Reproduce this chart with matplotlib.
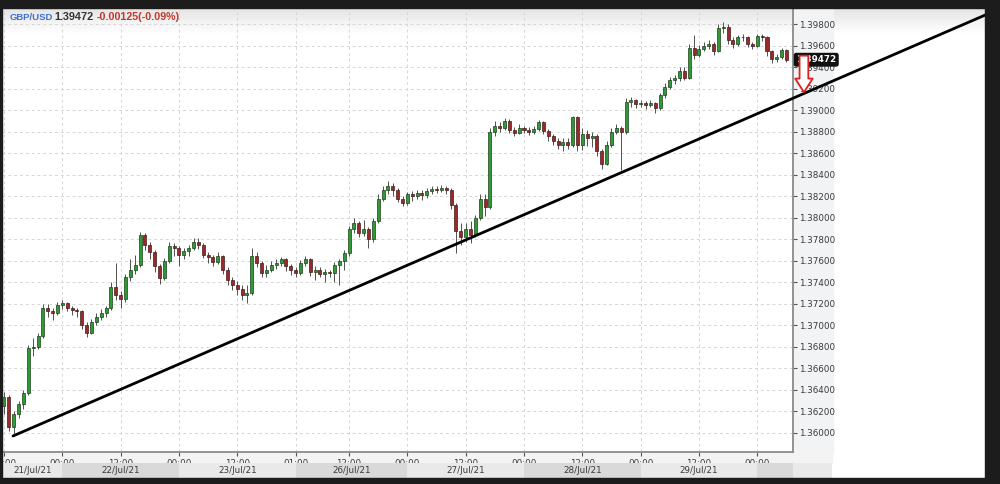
import matplotlib
matplotlib.use("Agg")
import matplotlib.pyplot as plt
from matplotlib.patches import Rectangle
from matplotlib.colors import LinearSegmentedColormap
import numpy as np

# hourly GBP/USD candles, 21/Jul/21 12:00 .. 30/Jul/21 06:00 (weekend gap removed)
first_open = 1.3625
closes = [1.3633, 1.3606, 1.3618, 1.3627, 1.3637, 1.3679, 1.3680, 1.3690, 1.3716, 1.3713,
          1.3712, 1.3719, 1.3721, 1.3716, 1.3714, 1.3713, 1.3700, 1.3693, 1.3703, 1.3708,
          1.3712, 1.3716, 1.3736, 1.3728, 1.3725, 1.3745, 1.3752, 1.3756, 1.3784, 1.3775,
          1.3768, 1.3755, 1.3744, 1.3760, 1.3774, 1.3772, 1.3766, 1.3769, 1.3772, 1.3778,
          1.3775, 1.3766, 1.3764, 1.3759, 1.3765, 1.3752, 1.3742, 1.3738, 1.3734, 1.3728,
          1.3730, 1.3765, 1.3758, 1.3749, 1.3752, 1.3756, 1.3758, 1.3762, 1.3755, 1.3752,
          1.3749, 1.3758, 1.3762, 1.3750, 1.3752, 1.3748, 1.3750, 1.3749, 1.3756, 1.3760,
          1.3767, 1.3790, 1.3795, 1.3786, 1.3790, 1.3780, 1.3797, 1.3818, 1.3826, 1.3830,
          1.3826, 1.3818, 1.3814, 1.3822, 1.3820, 1.3823, 1.3821, 1.3825, 1.3827, 1.3826,
          1.3828, 1.3826, 1.3812, 1.3788, 1.3782, 1.3790, 1.3784, 1.3800, 1.3818, 1.3810,
          1.3880, 1.3886, 1.3884, 1.3890, 1.3882, 1.3879, 1.3884, 1.3882, 1.3880, 1.3883,
          1.3889, 1.3881, 1.3876, 1.3872, 1.3868, 1.3871, 1.3868, 1.3894, 1.3868, 1.3878,
          1.3874, 1.3876, 1.3862, 1.3850, 1.3868, 1.3880, 1.3884, 1.3880, 1.3908, 1.3910,
          1.3906, 1.3907, 1.3905, 1.3907, 1.3902, 1.3914, 1.3922, 1.3928, 1.3930, 1.3937,
          1.3930, 1.3958, 1.3952, 1.3957, 1.3960, 1.3962, 1.3955, 1.3977, 1.3978, 1.3966,
          1.3962, 1.3968, 1.3968, 1.3962, 1.3960, 1.3969, 1.3968, 1.3955, 1.3948, 1.3950,
          1.3956, 1.3947]
highs = [1.3638, 1.3635, 1.3620, 1.3630, 1.3640, 1.3682, 1.3688, 1.3693, 1.3720, 1.3720,
         1.3716, 1.3722, 1.3724, 1.3722, 1.3718, 1.3716, 1.3714, 1.3703, 1.3706, 1.3712,
         1.3715, 1.3718, 1.3740, 1.3758, 1.3732, 1.3748, 1.3762, 1.3766, 1.3787, 1.3786,
         1.3778, 1.3770, 1.3757, 1.3763, 1.3778, 1.3777, 1.3774, 1.3772, 1.3775, 1.3781,
         1.3781, 1.3777, 1.3768, 1.3766, 1.3768, 1.3766, 1.3754, 1.3745, 1.3741, 1.3738,
         1.3738, 1.3772, 1.3768, 1.3760, 1.3756, 1.3760, 1.3762, 1.3764, 1.3763, 1.3757,
         1.3754, 1.3761, 1.3765, 1.3763, 1.3755, 1.3754, 1.3753, 1.3752, 1.3759, 1.3762,
         1.3770, 1.3793, 1.3800, 1.3797, 1.3798, 1.3792, 1.3800, 1.3822, 1.3830, 1.3834,
         1.3833, 1.3828, 1.3820, 1.3824, 1.3825, 1.3826, 1.3826, 1.3828, 1.3830, 1.3830,
         1.3831, 1.3830, 1.3828, 1.3814, 1.3795, 1.3795, 1.3797, 1.3803, 1.3822, 1.3822,
         1.3884, 1.3890, 1.3889, 1.3893, 1.3892, 1.3885, 1.3887, 1.3886, 1.3885, 1.3886,
         1.3891, 1.3890, 1.3883, 1.3878, 1.3874, 1.3874, 1.3874, 1.3895, 1.3895, 1.3884,
         1.3882, 1.3880, 1.3878, 1.3864, 1.3872, 1.3884, 1.3887, 1.3886, 1.3912, 1.3913,
         1.3911, 1.3910, 1.3909, 1.3910, 1.3908, 1.3916, 1.3926, 1.3931, 1.3933, 1.3940,
         1.3940, 1.3962, 1.3970, 1.3961, 1.3964, 1.3966, 1.3964, 1.3980, 1.3982, 1.3980,
         1.3968, 1.3970, 1.3971, 1.3969, 1.3964, 1.3971, 1.3971, 1.3969, 1.3956, 1.3953,
         1.3958, 1.3957]
lows = [1.3618, 1.3602, 1.3597, 1.3614, 1.3622, 1.3635, 1.3672, 1.3678, 1.3688, 1.3708,
        1.3705, 1.3710, 1.3715, 1.3713, 1.3710, 1.3708, 1.3697, 1.3689, 1.3692, 1.3700,
        1.3705, 1.3708, 1.3714, 1.3724, 1.3716, 1.3722, 1.3741, 1.3748, 1.3754, 1.3770,
        1.3762, 1.3750, 1.3739, 1.3742, 1.3758, 1.3765, 1.3755, 1.3762, 1.3765, 1.3770,
        1.3771, 1.3763, 1.3758, 1.3755, 1.3757, 1.3748, 1.3738, 1.3733, 1.3728, 1.3724,
        1.3721, 1.3728, 1.3754, 1.3745, 1.3745, 1.3750, 1.3753, 1.3755, 1.3751, 1.3747,
        1.3745, 1.3747, 1.3755, 1.3746, 1.3742, 1.3745, 1.3740, 1.3745, 1.3740, 1.3738,
        1.3752, 1.3765, 1.3786, 1.3782, 1.3783, 1.3772, 1.3778, 1.3795, 1.3816, 1.3822,
        1.3820, 1.3815, 1.3811, 1.3812, 1.3816, 1.3818, 1.3817, 1.3819, 1.3822, 1.3823,
        1.3824, 1.3822, 1.3808, 1.3767, 1.3775, 1.3778, 1.3777, 1.3782, 1.3798, 1.3802,
        1.3808, 1.3876, 1.3880, 1.3882, 1.3879, 1.3876, 1.3878, 1.3879, 1.3877, 1.3878,
        1.3881, 1.3878, 1.3872, 1.3868, 1.3864, 1.3862, 1.3864, 1.3866, 1.3862, 1.3863,
        1.3867, 1.3866, 1.3858, 1.3846, 1.3849, 1.3866, 1.3878, 1.3845, 1.3878, 1.3903,
        1.3902, 1.3903, 1.3901, 1.3903, 1.3898, 1.3900, 1.3912, 1.3920, 1.3925, 1.3927,
        1.3928, 1.3929, 1.3948, 1.3950, 1.3955, 1.3957, 1.3952, 1.3954, 1.3972, 1.3962,
        1.3958, 1.3960, 1.3965, 1.3959, 1.3957, 1.3959, 1.3965, 1.3951, 1.3944, 1.3945,
        1.3948, 1.3945]
opens = [first_open] + closes[:-1]

tick_pos = [0, 12, 24, 36, 48, 60, 71, 83, 95, 107, 119, 131, 143, 155]
tick_labels = ["12:00", "00:00", "12:00", "00:00", "12:00", "01:00", "12:00",
               "00:00", "12:00", "00:00", "12:00", "00:00", "12:00", "00:00"]
day_edges = [-0.41, 12, 36, 60, 83, 107, 131, 155, 162.35, 170.4]
day_labels = ["21/Jul/21", "22/Jul/21", "23/Jul/21", "26/Jul/21", "27/Jul/21",
              "28/Jul/21", "29/Jul/21", "", ""]

trend_x = [1.85, 201.9]
trend_y = [1.35972, 1.39888]

last_price = 1.39472
change = "-0.00125(-0.09%)"
arrow_x = 164.6
arrow_from, arrow_to = 1.3951, 1.3917

W, H = 1000, 484


def fx(px):
    return px / W


def fy(py):
    return 1 - py / H


fig = plt.figure(figsize=(10, 4.84), dpi=100)
fig.patch.set_facecolor("white")

# header gradient
gax = fig.add_axes([fx(0), fy(34), 1, fy(8) - fy(34)], zorder=-2)
cmap = LinearSegmentedColormap.from_list("hdr", ["#e4e4e4", "#ffffff"])
gax.imshow(np.linspace(0, 1, 64)[:, None], aspect="auto", cmap=cmap)
gax.axis("off")

# price scale strip and time/date rows
fig.add_artist(Rectangle((fx(793), fy(452)), fx(40), fy(8) - fy(452), transform=fig.transFigure,
                         color="#f2f3f5", zorder=-1))
fig.add_artist(Rectangle((fx(2), fy(463)), fx(830), fy(452) - fy(463), transform=fig.transFigure,
                         color="#f3f3f3", zorder=-1))

ax = fig.add_axes([fx(2), fy(452), fx(793) - fx(2), fy(9) - fy(452)])
ax.set_facecolor("none")

x = np.arange(len(closes))
o = np.array(opens)
c = np.array(closes)
h = np.array(highs)
l = np.array(lows)
up = c >= o

ax.vlines(x, l, h, color="#505050", lw=0.7, zorder=2)
ax.bar(x[up], (c - o)[up], bottom=o[up], width=0.62, color="#2f9a35",
       edgecolor="#1c3f1c", lw=0.5, zorder=3)
ax.bar(x[~up], (o - c)[~up], bottom=c[~up], width=0.62, color="#9a2a2a",
       edgecolor="#3f1a1a", lw=0.5, zorder=3)

ax.set_xlim(-0.41, 162.35)
ax.set_ylim(1.35823, 1.39944)

ax.yaxis.tick_right()
ax.set_yticks(np.arange(1.360, 1.3985, 0.002))
ax.set_yticklabels(["%.5f" % v for v in np.arange(1.360, 1.3985, 0.002)])
ax.tick_params(axis="y", direction="out", length=3, width=0.8, pad=1,
               labelsize=6.3, colors="#555555", labelcolor="#3a3a3a")
ax.set_xticks(tick_pos)
ax.set_xticklabels(tick_labels)
ax.tick_params(axis="x", direction="out", length=3, width=0.8, pad=2,
               labelsize=6.3, colors="#555555", labelcolor="#3a3a3a")
ax.grid(True, ls=(0, (3, 3)), color="#d6d6d6", lw=0.7)
ax.set_axisbelow(True)
for s in ["top", "left"]:
    ax.spines[s].set_visible(False)
for s in ["right", "bottom"]:
    ax.spines[s].set_color("#8a8a8a")
    ax.spines[s].set_linewidth(1.3)

ax.plot(trend_x, trend_y, color="black", lw=2.0, clip_on=False, zorder=6,
        solid_capstyle="round")

ax.text(1.004, last_price, "%.5f" % last_price, transform=ax.get_yaxis_transform(),
        ha="left", va="center", fontsize=6.3, color="white", fontweight="bold",
        bbox=dict(boxstyle="round,pad=0.2,rounding_size=0.2", fc="#111111", ec="#111111"),
        zorder=7, clip_on=False)
ax.annotate("", xy=(arrow_x, arrow_to), xytext=(arrow_x, arrow_from),
            arrowprops=dict(arrowstyle="simple,head_length=0.7,head_width=0.9,tail_width=0.45",
                            fc="white", ec="#e02020", lw=1.3, shrinkA=0, shrinkB=0,
                            mutation_scale=14),
            annotation_clip=False, zorder=8)

# date row
dax = fig.add_axes([fx(2), fy(478), fx(832) - fx(2), fy(463) - fy(478)])
dax.set_xlim(-0.41, 170.4)
dax.set_ylim(0, 1)
dax.axis("off")
for k in range(len(day_edges) - 1):
    shade = "#e9e9e9" if k % 2 == 0 else "#d9d9d9"
    dax.axvspan(day_edges[k], day_edges[k + 1], color=shade, lw=0)
    if day_labels[k]:
        dax.text((day_edges[k] + day_edges[k + 1]) / 2, 0.5, day_labels[k], ha="center",
                 va="center", fontsize=6.3, color="#3a3a3a")

# header text
fig.text(fx(10), fy(17), "GBP/USD", color="#3d6fcf", fontsize=6.8, fontweight="bold",
         va="center", family="Liberation Sans")
fig.text(fx(54), fy(17), "%.5f" % last_price, color="#333333", fontsize=7.8,
         fontweight="bold", va="center", family="Liberation Sans")
fig.text(fx(97), fy(17), change, color="#c0392b", fontsize=7.7, fontweight="bold",
         va="center", family="Liberation Sans")

# dark frame
dark = "#1c1c1c"
for r in [(0, fy(8), 1, 1 - fy(8)), (0, 0, fx(2), 1), (fx(985), 0, 1 - fx(985), 1),
          (0, 0, 1, fy(478))]:
    fig.add_artist(Rectangle(r[:2], r[2], r[3], transform=fig.transFigure, color=dark, zorder=10))

fig.savefig("out.png", dpi=100)
